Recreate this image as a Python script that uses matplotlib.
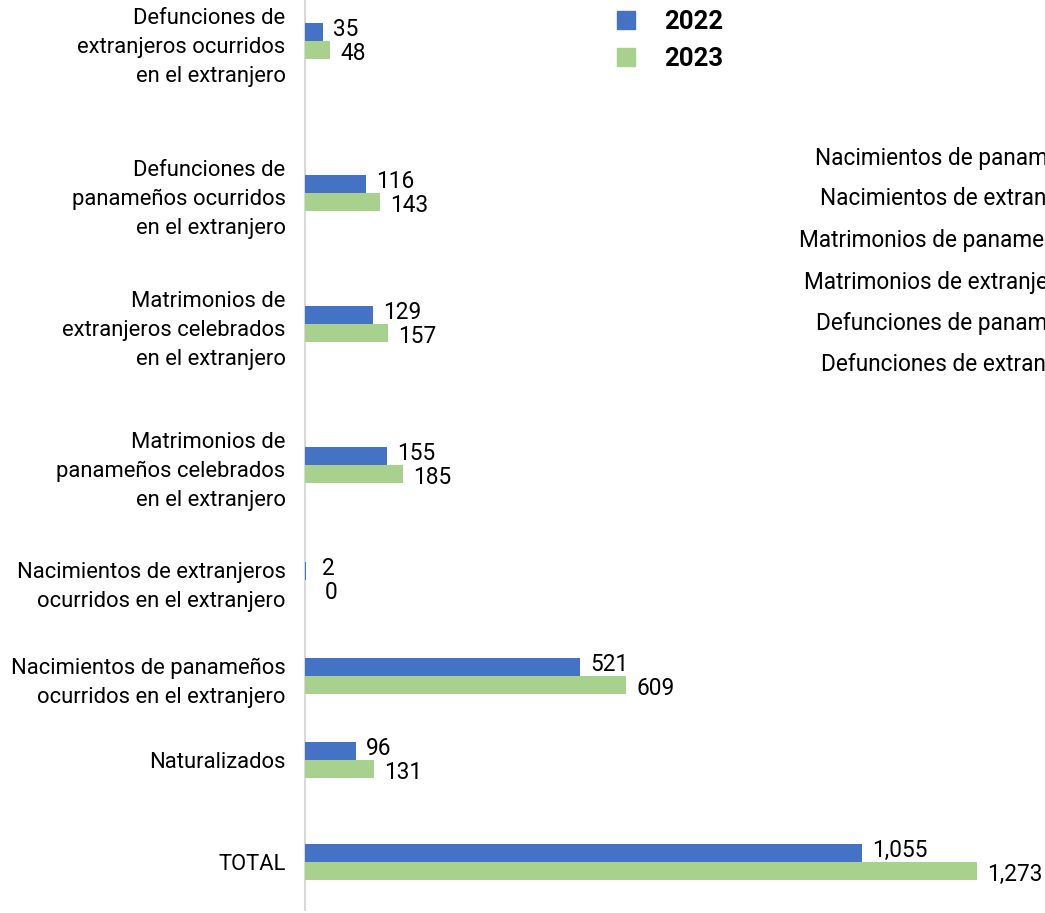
import matplotlib.pyplot as plt
from matplotlib.patches import Patch

plt.rcParams['font.family'] = ['Roboto', 'DejaVu Sans']

categorias = [
    'Defunciones de\nextranjeros ocurridos\nen el extranjero',
    'Defunciones de\npanameños ocurridos\nen el extranjero',
    'Matrimonios de\nextranjeros celebrados\nen el extranjero',
    'Matrimonios de\npanameños celebrados\nen el extranjero',
    'Nacimientos de extranjeros\nocurridos en el extranjero',
    'Nacimientos de panameños\nocurridos en el extranjero',
    'Naturalizados',
    'TOTAL',
]
valores_2022 = [35, 116, 129, 155, 2, 521, 96, 1055]
valores_2023 = [48, 143, 157, 185, 0, 609, 131, 1273]
series = ['2022', '2023']

# texto sobrante recortado a la derecha
textos_derecha = [
    'Nacimientos de panameños ocurridos en el extranjero',
    'Nacimientos de extranjeros ocurridos en el extranjero',
    'Matrimonios de panameños celebrados en el extranjero',
    'Matrimonios de extranjeros celebrados en el extranjero',
    'Defunciones de panameños ocurridos en el extranjero',
    'Defunciones de extranjeros ocurridos en el extranjero',
]

# layout (pixel rows of each group, from the top)
centros = [41, 193, 324, 465, 580, 676, 760, 862]
alto = 18
azul = '#4472C4'
verde = '#A9D18E'

W, H = 1045, 913
fig = plt.figure(figsize=(W / 100, H / 100), dpi=100)
ax = fig.add_axes([305 / W, 3 / H, (W - 305) / W, 910 / H])

y1 = [c - alto / 2 for c in centros]
y2 = [c + alto / 2 for c in centros]
ax.barh(y1, valores_2022, height=alto, color=azul, zorder=3)
ax.barh(y2, valores_2023, height=alto, color=verde, zorder=3)

for y, v in zip(y1, valores_2022):
    ax.annotate(f'{v:,}', (v, y), xytext=(10 if v > 5 else 16, 3), textcoords='offset pixels',
                va='center', ha='left', fontsize=16.3)
for y, v in zip(y2, valores_2023):
    ax.annotate(f'{v:,}', (v, y), xytext=(10 if v else 20, -3), textcoords='offset pixels',
                va='center', ha='left', fontsize=16.3)

ax.set_xlim(0, 1273 * 740 / 672)
ax.set_ylim(910, 0)
ax.set_yticks(centros)
ax.set_yticklabels(categorias, fontsize=15.8, linespacing=1.5)
ax.tick_params(axis='y', length=0, pad=14)
ax.set_xticks([])
for s in ['top', 'right', 'bottom']:
    ax.spines[s].set_visible(False)
ax.spines['left'].set_color('#D9D9D9')
ax.spines['left'].set_linewidth(1.5)

handles = [Patch(color=azul), Patch(color=verde)]
leg = fig.legend(handles, series, loc='upper left', bbox_to_anchor=(617 / W, 1 - 10 / H),
                 frameon=False, handlelength=0.7, handleheight=0.7,
                 handletextpad=1.15, labelspacing=0.5, borderpad=0, borderaxespad=0,
                 prop={'weight': 'bold', 'size': 18.5})

xs = [815, 820, 799, 804, 816, 821]
ys = [158, 198, 240, 282, 323, 364]
for t, x, y in zip(textos_derecha, xs, ys):
    fig.text(x / W, 1 - y / H, t, fontsize=16.3, va='center', ha='left')

fig.savefig('out.png', dpi=100)
